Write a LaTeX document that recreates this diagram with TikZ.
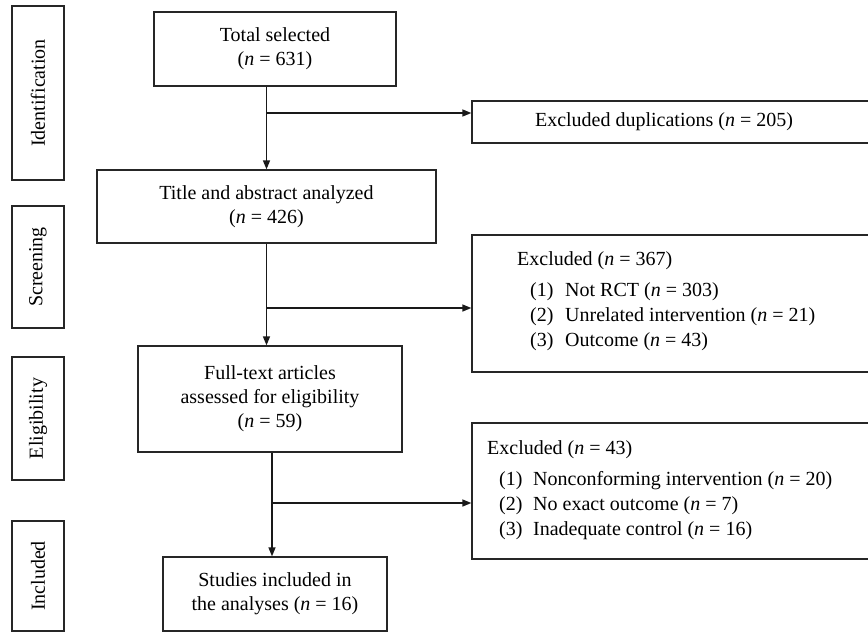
\documentclass[tikz,border=0pt]{standalone}
\usepackage{fontspec}
\setmainfont{Liberation Serif}
\usetikzlibrary{arrows.meta}
\newcommand{\ffs}{\fontsize{20}{24}\selectfont}
\tikzset{
  box/.style={draw=black!85, line width=1.3pt, inner sep=0pt, align=center, font=\ffs},
  side/.style={box, rotate=90, minimum height=52pt},
  txt/.style={inner sep=0pt, font=\ffs, anchor=base west},
  ctxt/.style={inner sep=0pt, font=\ffs, align=center},
  arr/.style={draw=black!90, line width=1.5pt, -{Triangle[length=9pt,width=7pt]}}
}
\begin{document}
\begin{tikzpicture}[x=1pt,y=-1pt]
\useasboundingbox (0,0) rectangle (868,633);
% side labels
\node[side, minimum width=174pt] (idf) at (38,93) {Identification};
\node[side, minimum width=122pt] (scr) at (38,267) {Screening};
\node[side, minimum width=123pt] (eli) at (38,418.5) {Eligibility};
\node[side, minimum width=110pt] (inc) at (38,576) {Included};
% main boxes
\node[box, minimum width=242pt, minimum height=74pt] (total) at (275,49) {Total selected\\(\textit{n} = 631)};
\node[box, minimum width=339pt, minimum height=73pt] (title) at (266.5,206.5) {Title and abstract analyzed\\(\textit{n} = 426)};
\node[box, minimum width=264pt, minimum height=106pt] (full) at (270,399) {Full-text articles\\assessed for eligibility\\(\textit{n} = 59)};
\node[box, minimum width=224pt, minimum height=74pt] (studies) at (275,594) {Studies included in\\the analyses (\textit{n} = 16)};
% exclusion boxes
\node[box, minimum width=398pt, minimum height=42pt] (dup) at (671,122) {};
\node[ctxt] (duptxt) at (664,122) {Excluded duplications (\textit{n} = 205)};
\node[box, minimum width=398pt, minimum height=137pt] (ex1) at (671,303.5) {};
\node[txt] (ex1a) at (517,265) {Excluded (\textit{n} = 367)};
\node[txt] (ex1b) at (530,296) {\makebox[35pt][l]{(1)}Not RCT (\textit{n} = 303)};
\node[txt] (ex1c) at (530,321) {\makebox[35pt][l]{(2)}Unrelated intervention (\textit{n} = 21)};
\node[txt] (ex1d) at (530,346) {\makebox[35pt][l]{(3)}Outcome (\textit{n} = 43)};
\node[box, minimum width=398pt, minimum height=136pt] (ex2) at (671,491) {};
\node[txt] (ex2a) at (487,454) {Excluded (\textit{n} = 43)};
\node[txt] (ex2b) at (499,485) {\makebox[34pt][l]{(1)}Nonconforming intervention (\textit{n} = 20)};
\node[txt] (ex2c) at (499,510) {\makebox[34pt][l]{(2)}No exact outcome (\textit{n} = 7)};
\node[txt] (ex2d) at (499,535) {\makebox[34pt][l]{(3)}Inadequate control (\textit{n} = 16)};
% connectors
\coordinate (b1) at (266.5,113);
\coordinate (b2) at (266.5,308);
\coordinate (b3) at (272,503);
\draw[arr] (total.south -| title.north) -- (title.north);
\draw[arr] (b1) -- (b1 -| dup.west);
\draw[arr] (title.south) -- (title.south |- full.north);
\draw[arr] (b2) -- (b2 -| ex1.west);
\draw[arr] (full.south -| b3) -- (studies.north -| b3);
\draw[arr] (b3) -- (b3 -| ex2.west);
\end{tikzpicture}
\end{document}
